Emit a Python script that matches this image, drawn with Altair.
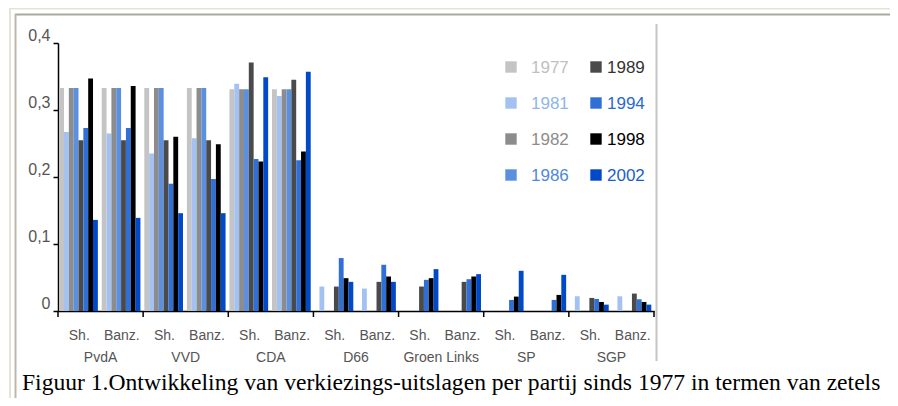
import altair as alt
import pandas as pd

years = ["1977", "1981", "1982", "1986", "1989", "1994", "1998", "2002"]
parties = ["PvdA", "VVD", "CDA", "D66", "Groen Links", "SP", "SGP"]
sides = ["Sh.", "Banz."]

# values per year, party-major order: (PvdA Sh., PvdA Banz., VVD Sh., ...)
v1977 = [0.333, 0.333, 0.333, 0.333, 0.331, 0.331, 0, 0, 0, 0, 0, 0, 0, 0]
v1981 = [0.267, 0.265, 0.235, 0.258, 0.339, 0.321, 0.0365, 0.0335, 0, 0, 0, 0, 0.022, 0.022]
v1982 = [0.333, 0.333, 0.333, 0.333, 0.331, 0.331, 0, 0, 0, 0, 0, 0, 0, 0]
v1986 = [0.333, 0.333, 0.333, 0.333, 0.331, 0.331, 0, 0, 0, 0, 0, 0, 0, 0]
v1989 = [0.255, 0.255, 0.255, 0.255, 0.371, 0.345, 0.0365, 0.0435, 0.0365, 0.0435, 0, 0, 0.0195, 0.026]
v1994 = [0.273, 0.273, 0.190, 0.197, 0.227, 0.225, 0.079, 0.069, 0.0465, 0.0475, 0.0165, 0.0165, 0.018, 0.0175]
v1998 = [0.347, 0.336, 0.260, 0.249, 0.223, 0.238, 0.049, 0.0515, 0.049, 0.0515, 0.0215, 0.024, 0.0135, 0.0135]
v2002 = [0.136, 0.139, 0.146, 0.146, 0.349, 0.357, 0.0435, 0.0435, 0.0625, 0.055, 0.060, 0.054, 0.0095, 0.0095]
series = [v1977, v1981, v1982, v1986, v1989, v1994, v1998, v2002]

bar_colors = ["#c4c4c4", "#a3c2f2", "#8c8c8c", "#5b8fe0", "#4a4a4a", "#2f6fd6", "#000000", "#0049c9"]
label_colors = ["#c0c0c0", "#8fb4ee", "#8c8c8c", "#4f87de", "#333333", "#2a68d2", "#000000", "#1c5ccf"]

caption = "Figuur 1.Ontwikkeling van verkiezings-uitslagen per partij sinds 1977 in termen van zetels"

cats = [f"{p}|{s}" for p in parties for s in sides]
rows = []
for yr, vals in zip(years, series):
    for c, v in zip(cats, vals):
        rows.append({"year": yr, "cat": c, "value": v})
df = pd.DataFrame(rows)

W, H = 596, 268
STEP = W / len(cats)
FONT = "Liberation Sans"
LABEL = "#555555"

xscale = alt.Scale(domain=cats, paddingInner=0, paddingOuter=0)

bars = alt.Chart(df).mark_bar().encode(
    x=alt.X("cat:N", scale=xscale,
            axis=alt.Axis(title=None, labelExpr="split(datum.label, '|')[1]", labelAngle=0,
                          ticks=False, domainColor="#000000", domainWidth=1.5,
                          labelColor=LABEL, labelFont=FONT, labelFontSize=14, labelPadding=17)),
    xOffset=alt.XOffset("year:N", sort=years,
                        scale=alt.Scale(domain=years, paddingInner=0, paddingOuter=0.4, align=0.3)),
    y=alt.Y("value:Q", scale=alt.Scale(domain=[0, 0.4]),
            axis=alt.Axis(title=None, values=[0, 0.1, 0.2, 0.3, 0.4], grid=False,
                          labelExpr="datum.value == 0 ? '0' : replace(format(datum.value, '.1f'), '.', ',')",
                          domainColor="#000000", domainWidth=1.5, tickColor="#000000", tickWidth=1.5,
                          tickSize=5, labelBaseline="bottom", labelColor=LABEL, labelFont=FONT,
                          labelFontSize=16, labelPadding=3)),
    color=alt.Color("year:N", scale=alt.Scale(domain=years, range=bar_colors), legend=None),
)

# party boundary ticks
tick_df = pd.DataFrame({"cat": [f"{p}|Sh." for p in parties]})
ticks = alt.Chart(tick_df).mark_rule(color="#000000", strokeWidth=1.5).encode(
    x=alt.X("cat:N", scale=xscale, bandPosition=0, axis=None),
    y=alt.value(H), y2=alt.value(H + 6),
)
end_tick = alt.Chart(pd.DataFrame({"cat": [cats[-1]]})).mark_rule(color="#000000", strokeWidth=1.5).encode(
    x=alt.X("cat:N", scale=xscale, bandPosition=1, axis=None),
    y=alt.value(H), y2=alt.value(H + 6),
)

# party names, centred between the Sh. and Banz. bands
party_df = pd.DataFrame({"cat": [f"{p}|Sh." for p in parties], "party": parties})
party_text = alt.Chart(party_df).mark_text(font=FONT, fontSize=14, color=LABEL, baseline="middle",
                                           dx=STEP / 2).encode(
    x=alt.X("cat:N", scale=xscale, axis=None),
    y=alt.value(H + 47),
    text="party:N",
)

# legend (two columns of four)
leg_df = pd.DataFrame({"year": years, "idx": list(range(len(years)))})
leg_base = alt.Chart(leg_df).transform_calculate(
    col="floor(datum.idx / 4)", row="datum.idx % 4"
)
leg_sw = leg_base.mark_square(size=130, opacity=1).encode(
    x=alt.X("col:Q", scale=alt.Scale(domain=[0, 1], range=[453, 538]), axis=None),
    y=alt.Y("row:Q", scale=alt.Scale(domain=[0, 3], range=[24, 132]), axis=None),
    color=alt.Color("year:N", scale=alt.Scale(domain=years, range=bar_colors), legend=None),
)
leg_tx = leg_base.mark_text(font=FONT, fontSize=17, align="left", baseline="middle").encode(
    x=alt.X("col:Q", scale=alt.Scale(domain=[0, 1], range=[473, 549]), axis=None),
    y=alt.Y("row:Q", scale=alt.Scale(domain=[0, 3], range=[25, 133]), axis=None),
    text="year:N",
    color=alt.Color("year:N", scale=alt.Scale(domain=years, range=label_colors), legend=None),
)

# caption
cap = alt.Chart(pd.DataFrame({"t": [caption]})).mark_text(
    font="Liberation Serif", fontSize=23.6, color="#000000", align="left", baseline="middle"
).encode(x=alt.value(-36), y=alt.value(340), text="t:N")

# frame lines
one = pd.DataFrame({"a": [0]})
def line(x1, x2, y1, y2, color, w):
    return alt.Chart(one).mark_rule(color=color, strokeWidth=w).encode(
        x=alt.value(x1), x2=alt.value(x2), y=alt.value(y1), y2=alt.value(y2))

frames = [
    line(-49, 850, -34.5, -34.5, "#e6e3d4", 2),
    line(-48, -48, -35, 360, "#e6e3d4", 2),
    line(-43, 850, -28.5, -28.5, "#a8a8a0", 2),
    line(-42.5, -42.5, -29, 360, "#b8b8b0", 2),
    line(598.5, 598.5, -19, 318, "#c4c4c4", 2),
]

chart = alt.layer(*frames, bars, ticks, end_tick, party_text, leg_sw, leg_tx, cap).resolve_scale(
    x="independent", y="independent", color="independent"
).properties(
    width=W, height=H,
    autosize=alt.AutoSizeParams(type="none"),
    padding={"left": 50, "top": 35, "right": 236, "bottom": 87},
).configure_view(stroke=None)

chart.save("out.html", embed_options={"renderer": "svg", "actions": False})
